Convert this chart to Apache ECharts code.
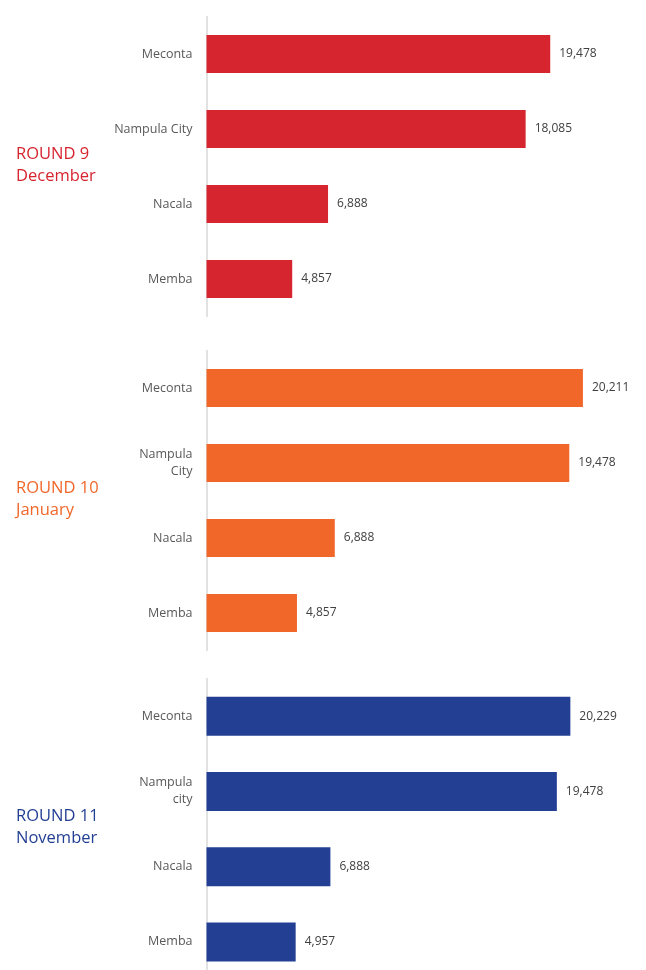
<!DOCTYPE html>
<html>
<head>
<meta charset="utf-8">
<script src="https://cdn.jsdelivr.net/npm/echarts@6/dist/echarts.min.js"></script>
<style>
  html, body { margin: 0; padding: 0; background: #ffffff; }
  #chart { width: 646px; height: 970px; }
</style>
</head>
<body>
<div id="chart"></div>
<script>
// Districts per survey round
const round9Categories = ['Meconta', 'Nampula City', 'Nacala', 'Memba'];
const round9Values = [19478, 18085, 6888, 4857];

const round10Categories = ['Meconta', 'Nampula\nCity', 'Nacala', 'Memba'];
const round10Values = [20211, 19478, 6888, 4857];

const round11Categories = ['Meconta', 'Nampula\ncity', 'Nacala', 'Memba'];
const round11Values = [20229, 19478, 6888, 4957];

const roundTitles = ['ROUND 9\nDecember', 'ROUND 10\nJanuary', 'ROUND 11\nNovember'];

const FONT = '"Open Sans", "Liberation Sans", sans-serif';

const panels = [
  { cats: round9Categories, vals: round9Values, color: '#D6252F', top: 16.5, height: 300, max: 23800, barW: 38, titleTop: 138 },
  { cats: round10Categories, vals: round10Values, color: '#F1672A', top: 350.5, height: 300, max: 22550, barW: 38, titleTop: 472 },
  { cats: round11Categories, vals: round11Values, color: '#233F94', top: 678.5, height: 301, max: 23350, barW: 39, titleTop: 800 }
];

const chart = echarts.init(document.getElementById('chart'), null, { renderer: 'canvas' });

const option = {
  backgroundColor: '#ffffff',
  animation: false,
  title: panels.map((p, i) => ({
    text: roundTitles[i],
    left: 11,
    top: p.titleTop,
    textStyle: {
      color: p.color,
      fontFamily: FONT,
      fontSize: 16.5,
      fontWeight: 'normal',
      lineHeight: 22
    }
  })),
  grid: panels.map(p => ({
    left: 206.5,
    width: 420,
    top: p.top,
    height: p.height,
    outerBoundsMode: 'none',
    containLabel: false
  })),
  xAxis: panels.map((p, i) => ({
    type: 'value',
    gridIndex: i,
    min: 0,
    max: p.max,
    show: false,
    splitLine: { show: false }
  })),
  yAxis: panels.map((p, i) => ({
    type: 'category',
    gridIndex: i,
    data: p.cats,
    inverse: true,
    axisLine: { show: true, lineStyle: { color: '#d9d9d9', width: 1.5 } },
    axisTick: { show: false },
    axisLabel: {
      margin: 14,
      color: '#595959',
      fontFamily: FONT,
      fontSize: 12.5,
      lineHeight: 17
    }
  })),
  series: panels.map((p, i) => ({
    type: 'bar',
    xAxisIndex: i,
    yAxisIndex: i,
    data: p.vals,
    barWidth: p.barW,
    itemStyle: { color: p.color },
    label: {
      show: true,
      position: 'right',
      distance: 9,
      color: '#404040',
      fontFamily: FONT,
      fontSize: 12,
      formatter: params => params.value.toLocaleString('en-US')
    }
  }))
};

chart.setOption(option);
</script>
</body>
</html>
